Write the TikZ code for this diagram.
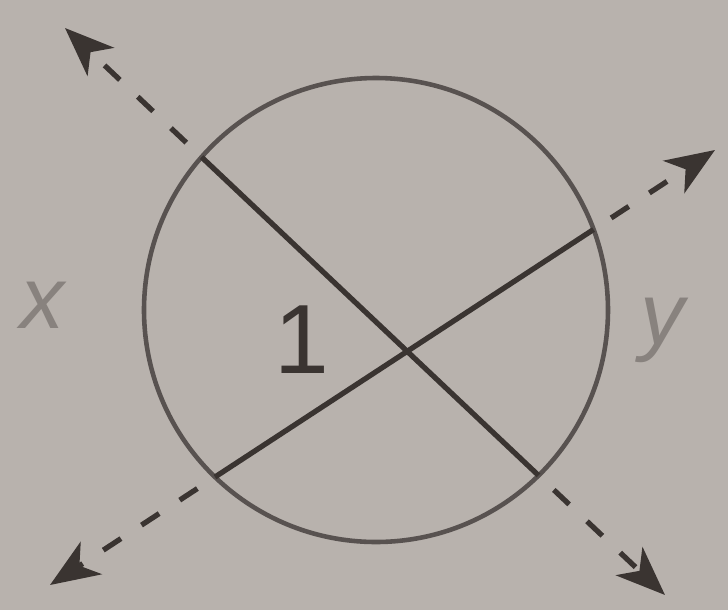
\documentclass[tikz,border=0pt]{standalone}
\usepackage{fontspec}
\setmainfont{Liberation Sans}
\usetikzlibrary{arrows.meta}
\definecolor{paper}{RGB}{184,178,173}
\definecolor{ink}{RGB}{58,52,49}
\definecolor{faint}{RGB}{136,130,126}
\begin{document}
\begin{tikzpicture}[x=0.02cm,y=-0.02cm,>={Stealth[length=28pt,width=22pt,inset=8pt]},
  ln/.style={draw=ink,line width=3pt},
  ext/.style={ln,->,dash pattern=on 12pt off 14pt,dash phase=14pt},
  lbl/.style={font=\fontsize{50}{52}\selectfont\itshape,text=faint}]
  \fill[paper] (0,0) rectangle (728,610);
  \useasboundingbox (0,0) rectangle (728,610);
  % circle and the points where the lines cut it
  \coordinate (o) at (376,310);
  \draw[draw=ink!85,line width=2.6pt] (o) circle[radius=232];
  \coordinate (xa) at (201.6,157.1);
  \coordinate (xb) at (538.5,475.4);
  \coordinate (ya) at (215,477);
  \coordinate (yb) at (593.5,229.5);
  \coordinate (xs) at (65,28);
  \coordinate (xe) at (665,595);
  \coordinate (ys) at (50,585);
  \coordinate (ye) at (715,150);
  % chords
  \draw[ln] (xa) -- (xb);
  \draw[ln] (ya) -- (yb);
  % dashed extensions
  \draw[ext] (xa) -- (xs);
  \draw[ext] (xb) -- (xe);
  \draw[ext] (ya) -- (ys);
  \draw[ext] (yb) -- (ye);
  \node[font=\fontsize{56}{58}\selectfont,text=ink] (one) at (302,340) {1};
  \node[lbl] (lx) at (42,305) {x};
  \node[lbl] (ly) at (662,330) {y};
\end{tikzpicture}
\end{document}
